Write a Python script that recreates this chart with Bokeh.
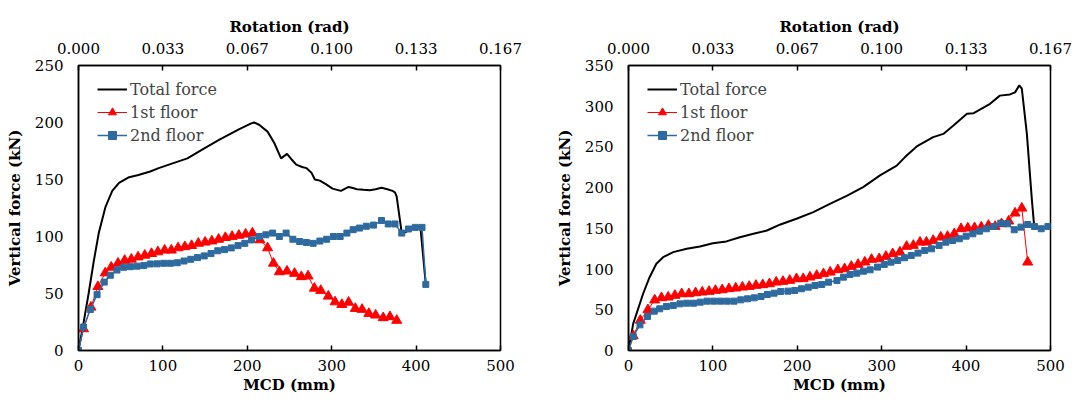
from bokeh.plotting import figure
from bokeh.models import Range1d, LinearAxis, FixedTicker, Legend, LegendItem
from bokeh.layouts import row
from bokeh.embed import file_html
from bokeh.resources import INLINE

FONT = "DejaVu Serif"

# ---------------- data ----------------
MCD_TICKS = [0, 100, 200, 300, 400, 500]
ROT_LABELS = ["0.000", "0.033", "0.067", "0.100", "0.133", "0.167"]
Y1_TICKS = [0, 50, 100, 150, 200, 250]
Y2_TICKS = [0, 50, 100, 150, 200, 250, 300, 350]

# Left panel
TOT1_X = [0, 5, 12, 18, 24, 32, 40, 48, 60, 71, 85, 95, 115, 129, 147, 167, 190, 204, 208,
          214, 224, 232, 240, 247, 252, 258, 265, 270, 276, 280, 286, 293, 301, 311, 316, 320,
          325, 330, 338, 345, 352, 359, 366, 372, 375, 377, 383, 388, 395, 400, 405, 411.5]
TOT1_Y = [0, 20, 50, 78, 103, 126, 140, 147, 152, 154, 157, 160, 165, 168.5, 176.5, 185, 194, 199, 200,
          198, 192, 182, 168.5, 172.5, 168, 163, 161, 160, 156, 150, 149, 146, 142, 140, 142, 143.5,
          142.5, 141.5, 141, 140.6, 141.5, 142.7, 141.5, 140, 138.8, 135, 103, 104, 108, 109, 109, 58]

R1_X = [0, 6, 14.7, 23, 31.7, 38.8, 46.8, 54.7, 62.6, 70.6, 78.5, 86.5, 94, 102, 110, 118, 126, 134,
        142, 150, 158, 166, 174, 182, 190, 198, 206, 215, 224, 231, 238, 247, 256, 264, 272, 279.5,
        287, 296, 304, 312, 320, 328, 336, 344, 352, 361, 369, 377]
R1_Y = [0, 19, 38, 56, 68, 73, 76.5, 79, 80, 82, 83.5, 85, 86.5, 88, 88, 90, 91, 92,
        94, 95, 96, 97.5, 99, 100, 101, 102, 103, 97, 90, 76.5, 69, 69.6, 67.6, 64.7, 65.3, 54.6,
        52.6, 47.6, 42.6, 40.3, 42.3, 36.8, 36, 32.4, 31, 28.7, 29.6, 26.4]

B1_X = [0, 6, 14, 22, 30.5, 37.7, 45.6, 53.6, 61.5, 69.5, 77.4, 85, 93, 101, 109, 117, 125, 133,
        141, 149, 157, 165, 173, 181, 189, 197, 205, 214, 222, 230, 238, 246, 254, 262, 270, 278,
        286, 294, 302, 310, 318, 325.4, 333, 341, 349.6, 359, 367, 375, 383, 391, 399, 407, 411.5]
B1_Y = [0, 20.6, 36, 49, 60, 66, 70.6, 73, 73.5, 74, 74.5, 75.9, 76, 76.5, 76.5, 77, 78.5, 80,
        81.5, 83, 85, 87.5, 88.5, 90, 92, 94, 97, 100, 101.5, 103, 100, 103, 97.6, 95.6, 94.7, 94,
        96, 97.6, 100, 100, 103, 106, 107.4, 109, 110, 114, 111, 111, 103, 106.6, 108, 108, 58]

# Right panel
TOT2_X = [0, 5.6, 17.4, 25, 33, 41, 53, 69, 84.7, 100, 116, 132, 148, 164, 180, 199, 219, 238.6,
          258.5, 278, 298, 317.8, 327.6, 341.5, 361, 373, 385, 401, 409, 428.4, 440, 452, 458, 463,
          466, 472, 478, 480.6]
TOT2_Y = [0, 33, 70, 90, 106.5, 114.6, 120.8, 125, 127.8, 131.8, 134, 139, 143.3, 147.4, 154.8,
          161.8, 170, 180, 190, 200.6, 215, 227, 237.5, 250.6, 262, 266, 276.4, 290.8, 291.5, 303,
          313, 314.5, 317, 325.6, 321.5, 266, 184, 153.6]

R2_X = [0, 5.6, 14, 23, 31, 39, 47, 55, 63, 71.5, 79.5, 87.4, 95.4, 103, 111, 119, 127, 135, 143,
        151, 159, 167, 175, 183, 191, 199, 207, 215, 223, 231, 239, 248, 256, 264, 272, 280, 288,
        297, 305, 313, 321.6, 329.5, 337.5, 345.4, 353, 361, 370, 378, 386, 394, 402, 410, 418,
        426.5, 434.4, 442, 450.5, 458, 466, 473]
R2_Y = [0, 18, 37, 50, 62, 64.7, 65.5, 67.6, 69.6, 69.6, 70.8, 71.7, 72.5, 73.7, 74.5, 75.8, 76.6,
        77.8, 78.6, 79.9, 80.7, 81.9, 83.9, 84.8, 86, 88.1,
        88.1, 90.1, 92.1, 94.2, 96.2, 99.1, 100.3, 103.2, 105.7, 108.5, 111.8, 112.6, 115.5, 118.8,
        120.8, 127.8, 129, 133, 133, 135.1, 139.2, 140, 143.3, 149.5, 150.3, 150.7, 151.5, 153.6,
        152.3, 155.6, 158.9, 168.7, 174.8, 108.5]

B2_X = [0, 5.6, 13.6, 22.6, 30.5, 37, 45, 53, 61, 69, 77, 85, 93, 101, 109, 117, 125, 133, 141,
        149, 157, 164.5, 172.5, 180.4, 189, 197, 205, 213, 221, 229, 237, 247, 254.6, 262.5, 270.5,
        278.4, 286.3, 295, 303, 311, 319, 327, 335, 343, 351, 359, 368, 376, 384, 392, 400, 408,
        416, 424, 433, 441, 449, 457, 465, 473, 481, 489, 497]
B2_Y = [0, 17.2, 31.5, 41.8, 48.3, 51.2, 54, 55.3, 57.3, 58.1, 58.1, 59.4, 60.6, 60.6, 60.6, 60.6,
        60.6, 62.2, 63.5, 64.7, 66.3, 68.8, 70.4, 72.5, 72.9, 73.7, 75.8, 77.8, 79.9, 81.1, 83.9,
        86, 90.1, 93.4, 95, 97.4, 99.1, 102.4, 105.7, 108.5, 110.6, 113.9, 116.7, 119.6, 122.9,
        124.9, 129, 133, 135.1, 137.2, 140.4, 143.3, 146.6, 149.5, 152.3, 156.4, 155.6, 148.3,
        151.5, 154.8, 152.3, 149.5, 152.3]

RED = "#FF0000"
BLUE = "#2E6A9E"


def style_axis(ax, tick_in, standoff):
    ax.axis_line_color = "black"
    ax.axis_line_width = 1.5
    ax.major_tick_line_color = "black"
    ax.major_tick_line_width = 1.5
    ax.major_tick_in = tick_in
    ax.major_tick_out = 0
    ax.minor_tick_line_color = None
    ax.major_label_text_font = FONT
    ax.major_label_text_font_size = "15px"
    ax.major_label_text_color = "black"
    ax.major_label_standoff = standoff
    ax.axis_label_text_font = FONT
    ax.axis_label_text_font_size = "15px"
    ax.axis_label_text_font_style = "bold"
    ax.axis_label_text_color = "black"


def make_panel(tx, ty, rx, ry, bx, by, ymax, yticks, width, border_left, border_right):
    p = figure(width=width, height=406, x_range=Range1d(0, 500), y_range=Range1d(0, ymax),
               output_backend="svg", toolbar_location=None,
               min_border_left=border_left, min_border_right=border_right,
               min_border_top=65, min_border_bottom=56)
    p.background_fill_color = "white"
    p.border_fill_color = "white"
    p.outline_line_color = "black"
    p.outline_line_width = 1.5
    p.xgrid.visible = False
    p.ygrid.visible = False

    xa = p.xaxis[0]
    xa.ticker = FixedTicker(ticks=MCD_TICKS)
    xa.axis_label = "MCD (mm)"
    xa.axis_label_standoff = 2
    style_axis(xa, 5, 9)

    ya = p.yaxis[0]
    ya.ticker = FixedTicker(ticks=yticks)
    ya.axis_label = "Vertical force (kN)"
    ya.axis_label_standoff = 8
    style_axis(ya, 0, 15)

    top = LinearAxis(ticker=FixedTicker(ticks=MCD_TICKS),
                     major_label_overrides={t: l for t, l in zip(MCD_TICKS, ROT_LABELS)},
                     axis_label="Rotation (rad)")
    style_axis(top, 5, 12)
    top.axis_label_standoff = 4
    p.add_layout(top, "above")

    lt = p.line(tx, ty, line_color="black", line_width=2)
    lr = p.line(rx, ry, line_color=RED, line_width=1)
    sr = p.scatter(rx, ry, marker="triangle", size=10, fill_color=RED, line_color=RED)
    lb = p.line(bx, by, line_color=BLUE, line_width=1.5)
    sb = p.scatter(bx, by, marker="square", size=6, fill_color=BLUE, line_color=BLUE)

    legend = Legend(items=[LegendItem(label="Total force", renderers=[lt]),
                           LegendItem(label="1st floor", renderers=[lr, sr]),
                           LegendItem(label="2nd floor", renderers=[lb, sb])],
                    location=(19, 205), padding=0, margin=0, spacing=3,
                    label_height=20, glyph_height=20, glyph_width=30, label_standoff=3,
                    label_text_font=FONT, label_text_font_size="16px",
                    border_line_color=None, background_fill_alpha=0)
    p.add_layout(legend, "center")
    return p


p1 = make_panel(TOT1_X, TOT1_Y, R1_X, R1_Y, B1_X, B1_Y, 250, Y1_TICKS, 550, 78, 50)
p2 = make_panel(TOT2_X, TOT2_Y, R2_X, R2_Y, B2_X, B2_Y, 350, Y2_TICKS, 524, 78, 24)

layout = row(p1, p2, spacing=0)
open("out.html", "w").write(file_html(layout, INLINE))
